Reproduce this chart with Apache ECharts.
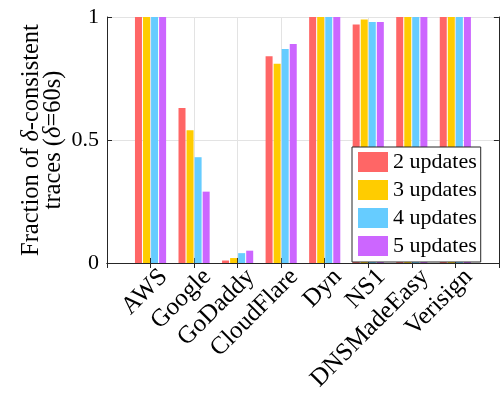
<!DOCTYPE html>
<html>
<head>
<meta charset="utf-8">
<script src="https://cdn.jsdelivr.net/npm/echarts@6/dist/echarts.min.js"></script>
<style>
  html, body { margin: 0; padding: 0; background: #fff; }
  #chart { width: 501px; height: 394px; }
</style>
</head>
<body>
<div id="chart"></div>
<script>
const providers = ['AWS', 'Google', 'GoDaddy', 'CloudFlare', 'Dyn', 'NS1', 'DNSMadeEasy', 'Verisign'];
const seriesNames = ['2 updates', '3 updates', '4 updates', '5 updates'];
const updates2 = [1, 0.63, 0.01, 0.84, 1, 0.97, 1, 1];
const updates3 = [1, 0.54, 0.02, 0.81, 1, 0.99, 1, 1];
const updates4 = [1, 0.43, 0.04, 0.87, 1, 0.98, 1, 1];
const updates5 = [1, 0.29, 0.05, 0.89, 1, 0.98, 1, 1];
const yTicks = [0, 0.5, 1];
const colors = ['#ff6666', '#ffcc00', '#66ccff', '#cc66ff'];

const FONT = 'Liberation Serif, Times New Roman, serif';
const INK = '#262626';
const GRIDC = '#e3e3e3';

// pad categories so the axis spans [0, 9] with providers at 1..8
const axisCats = [''].concat(providers, ['']);
const pad = arr => ['-'].concat(arr, ['-']);
const allValues = [updates2, updates3, updates4, updates5];

const chart = echarts.init(document.getElementById('chart'), null, { renderer: 'canvas' });

const option = {
  animation: false,
  backgroundColor: '#ffffff',
  color: colors,
  grid: { left: 107, right: 0, top: 17, bottom: 131, containLabel: false },
  legend: {
    orient: 'vertical',
    left: 352,
    top: 147,
    icon: 'rect',
    itemWidth: 30,
    itemHeight: 20,
    itemGap: 6,
    padding: [4, 4, 5, 6],
    backgroundColor: '#ffffff',
    borderColor: INK,
    borderWidth: 1,
    borderRadius: 0,
    textStyle: { fontFamily: FONT, fontSize: 22, color: '#000', lineHeight: 20 },
    data: seriesNames
  },
  xAxis: [
    {
      type: 'category',
      position: 'bottom',
      data: axisCats,
      boundaryGap: false,
      axisLine: { show: true, lineStyle: { color: INK, width: 1 } },
      axisTick: { show: true, inside: true, length: 5, interval: 0, lineStyle: { color: INK } },
      splitLine: { show: true, interval: 0, lineStyle: { color: GRIDC, width: 1 } },
      axisLabel: {
        show: true, interval: 0, rotate: 45, margin: -3,
        align: 'right', verticalAlign: 'top',
        padding: [6, 0, 0, 0],
        fontFamily: FONT, fontSize: 25, color: '#000',
        hideOverlap: false
      }
    },
    {
      type: 'category',
      position: 'top',
      data: axisCats,
      boundaryGap: false,
      axisLine: { show: true, lineStyle: { color: INK, width: 1 } },
      axisTick: { show: true, inside: true, length: 5, interval: 0, lineStyle: { color: INK } },
      splitLine: { show: false },
      axisLabel: { show: false }
    }
  ],
  yAxis: [
    {
      type: 'value',
      position: 'left',
      min: yTicks[0],
      max: yTicks[yTicks.length - 1],
      interval: yTicks[1] - yTicks[0],
      axisLine: { show: true, lineStyle: { color: INK, width: 1 } },
      axisTick: { show: true, inside: true, length: 5, lineStyle: { color: INK } },
      splitLine: { show: true, lineStyle: { color: GRIDC, width: 1 } },
      axisLabel: { margin: 8, fontFamily: FONT, fontSize: 22, color: '#000' },
      name: 'Fraction of {i|δ}-consistent\ntraces ({i|δ}=60s)',
      nameLocation: 'middle',
      nameRotate: 90,
      nameGap: 42,
      nameMoveOverlap: false,
      nameTextStyle: {
        fontFamily: FONT, fontSize: 24.5, color: '#000', lineHeight: 22,
        align: 'center',
        rich: { i: { fontFamily: FONT, fontSize: 24.5, fontStyle: 'italic', color: '#000', lineHeight: 22 } }
      }
    },
    {
      type: 'value',
      position: 'right',
      min: yTicks[0],
      max: yTicks[yTicks.length - 1],
      interval: yTicks[1] - yTicks[0],
      axisLine: { show: true, lineStyle: { color: INK, width: 1 } },
      axisTick: { show: true, inside: true, length: 5, lineStyle: { color: INK } },
      splitLine: { show: false },
      axisLabel: { show: false }
    }
  ],
  series: seriesNames.map((name, i) => ({
    name: name,
    type: 'bar',
    xAxisIndex: 0,
    yAxisIndex: 0,
    data: pad(allValues[i]),
    barWidth: 7,
    barGap: '15%',
    itemStyle: { color: colors[i] }
  }))
};

chart.setOption(option);
</script>
</body>
</html>
